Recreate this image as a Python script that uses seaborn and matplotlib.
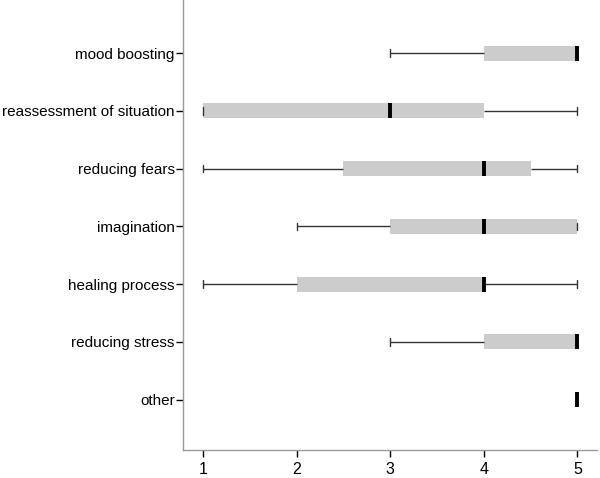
import pandas as pd
import seaborn as sns
import matplotlib.pyplot as plt

# five-number summaries (scale 1-5)
categories = ["mood boosting", "reassessment of situation", "reducing fears",
              "imagination", "healing process", "reducing stress", "other"]
lows = [3, 1, 1, 2, 1, 3, 5]
q1s = [4, 1, 2.5, 3, 2, 4, 5]
medians = [5, 3, 4, 4, 4, 5, 5]
q3s = [5, 4, 4.5, 5, 4, 5, 5]
highs = [5, 5, 5, 5, 5, 5, 5]

# 5 points per category -> linear percentiles equal the summary exactly
rows = []
for i, cat in enumerate(categories):
    for v in (lows[i], q1s[i], medians[i], q3s[i], highs[i]):
        rows.append({"item": cat, "score": v})
df = pd.DataFrame(rows)

sns.set_style("white")
plt.rcParams["font.family"] = ["Liberation Sans", "DejaVu Sans"]

fig = plt.figure(figsize=(6, 4.78), dpi=100)
ax = fig.add_axes([0.305, 0.0586, 0.69, 0.9414])

sns.boxplot(data=df, x="score", y="item", order=categories, orient="h",
            whis=(0, 100), width=0.26, color="#cccccc", ax=ax,
            boxprops=dict(edgecolor="none", facecolor="#cccccc"),
            medianprops=dict(color="black", linewidth=2.8),
            whiskerprops=dict(color="#333333", linewidth=1),
            capprops=dict(color="#333333", linewidth=1),
            showfliers=False)

ax.set_xlim(0.786, 5.21)
ax.set_ylim(6.87, -0.92)
ax.set_xticks([1, 2, 3, 4, 5])
ax.set_xlabel("")
ax.set_ylabel("")
sns.despine(ax=ax)
for side in ("left", "bottom"):
    ax.spines[side].set_color("#999999")
    ax.spines[side].set_linewidth(1)
ax.tick_params(axis="both", direction="out", length=5, width=1, color="black",
               labelcolor="black", left=True, bottom=True)
ax.tick_params(axis="y", labelsize=11, pad=1)
ax.tick_params(axis="x", labelsize=11.5, pad=4)

fig.savefig("out.png", dpi=100)
